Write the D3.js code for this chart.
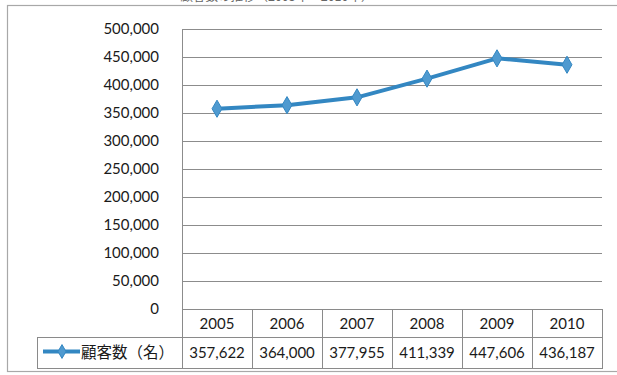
<!DOCTYPE html>
<html>
<head>
<meta charset="utf-8">
<script src="https://cdn.jsdelivr.net/npm/d3@7"></script>
<style>
  html, body { margin: 0; padding: 0; background: #fff; }
  svg { display: block; }
</style>
</head>
<body>
<svg id="chart" width="617" height="375"></svg>
<script>
// Customer count by year
const years = ["2005", "2006", "2007", "2008", "2009", "2010"];
const customers = [357622, 364000, 377955, 411339, 447606, 436187];
const yTicks = [0, 50000, 100000, 150000, 200000, 250000, 300000, 350000, 400000, 450000, 500000];
const seriesName = "顧客数（名）";
const chartTitle = "顧客数の推移（2005年～2010年）";

const svg = d3.select("#chart");
const numFont = "Lato, 'Open Sans', sans-serif";
const jpFont = "'Noto Sans CJK JP', sans-serif";
const lineColor = "#3387c2";
const markerFill = "#4f9ad0";

const plot = { left: 182, right: 602, top: 29, bottom: 309 };
const table = { legendLeft: 37, headerBottom: 337, bottom: 368 };

const x = d3.scaleBand().domain(years).range([plot.left, plot.right]);
const y = d3.scaleLinear().domain([0, 500000]).range([plot.bottom, plot.top]);
const fmt = d3.format(",");

// outer frame
svg.append("rect")
  .attr("x", 7.5).attr("y", 5.5)
  .attr("width", 640).attr("height", 366)
  .attr("fill", "none").attr("stroke", "#a8a8a8").attr("stroke-width", 1.2);

// title (runs off the top edge)
svg.append("text")
  .attr("x", 277).attr("y", 1)
  .attr("text-anchor", "middle")
  .attr("font-family", jpFont).attr("font-size", 12.5)
  .attr("fill", "#666")
  .text(chartTitle);

// horizontal gridlines
const grid = svg.append("g")
  .attr("transform", `translate(${plot.left},0)`)
  .call(d3.axisLeft(y).tickValues(yTicks).tickSize(-(plot.right - plot.left)).tickFormat(""));
grid.select(".domain").remove();
grid.selectAll(".tick line").attr("stroke", "#8c8c8c").attr("stroke-width", 1);

// plot area left edge
svg.append("line")
  .attr("x1", plot.left + 0.5).attr("x2", plot.left + 0.5)
  .attr("y1", plot.top).attr("y2", plot.bottom)
  .attr("stroke", "#8c8c8c");

// y axis labels
const yAxis = svg.append("g")
  .attr("transform", `translate(${plot.left - 23},0)`)
  .call(d3.axisLeft(y).tickValues(yTicks).tickSize(0).tickPadding(0).tickFormat(fmt));
yAxis.select(".domain").remove();
yAxis.selectAll("text")
  .attr("font-family", numFont).attr("font-size", 15).attr("fill", "#1a1a1a");

// data table
const tbl = svg.append("g");
function hline(x1, x2, yy) {
  tbl.append("line").attr("x1", x1).attr("x2", x2).attr("y1", yy + 0.5).attr("y2", yy + 0.5)
    .attr("stroke", "#8a8a8a").attr("stroke-width", 1);
}
function vline(xx, y1, y2) {
  tbl.append("line").attr("x1", xx + 0.5).attr("x2", xx + 0.5).attr("y1", y1).attr("y2", y2)
    .attr("stroke", "#8a8a8a").attr("stroke-width", 1);
}
hline(plot.left, plot.right, plot.bottom);
hline(table.legendLeft, plot.right, table.headerBottom);
hline(table.legendLeft, plot.right, table.bottom);
vline(table.legendLeft, table.headerBottom, table.bottom + 1);
years.forEach(d => vline(x(d), plot.bottom, table.bottom + 1));
vline(plot.right, plot.bottom, table.bottom + 1);

tbl.selectAll("text.year").data(years).join("text")
  .attr("class", "year")
  .attr("x", d => x(d) + x.bandwidth() / 2)
  .attr("y", (plot.bottom + table.headerBottom) / 2 + 5.5)
  .attr("text-anchor", "middle")
  .attr("font-family", numFont).attr("font-size", 15).attr("fill", "#1a1a1a")
  .text(d => d);

tbl.selectAll("text.val").data(customers).join("text")
  .attr("class", "val")
  .attr("x", (d, i) => x(years[i]) + x.bandwidth() / 2)
  .attr("y", (table.headerBottom + table.bottom) / 2 + 5.5)
  .attr("text-anchor", "middle")
  .attr("font-family", numFont).attr("font-size", 15).attr("fill", "#1a1a1a")
  .text(d => fmt(d));

// legend key inside the table
const keyY = (table.headerBottom + table.bottom) / 2 - 1;
tbl.append("line")
  .attr("x1", 43).attr("x2", 80).attr("y1", keyY).attr("y2", keyY)
  .attr("stroke", lineColor).attr("stroke-width", 4);
tbl.append("path")
  .attr("d", d3.symbol(d3.symbolDiamond, 55)())
  .attr("transform", `translate(62,${keyY})`)
  .attr("fill", markerFill).attr("stroke", lineColor).attr("stroke-width", 1);
tbl.append("text")
  .attr("x", 81).attr("y", keyY + 6)
  .attr("font-family", jpFont).attr("font-size", 15.5).attr("fill", "#1a1a1a")
  .text(seriesName);

// series line and markers
const pts = customers.map((v, i) => [x(years[i]) + x.bandwidth() / 2, y(v)]);
svg.append("path")
  .attr("d", d3.line()(pts))
  .attr("fill", "none").attr("stroke", lineColor)
  .attr("stroke-width", 4).attr("stroke-linejoin", "round");
svg.selectAll("path.marker").data(pts).join("path")
  .attr("class", "marker")
  .attr("d", d3.symbol(d3.symbolDiamond, 85)())
  .attr("transform", d => `translate(${d[0]},${d[1]})`)
  .attr("fill", markerFill).attr("stroke", lineColor).attr("stroke-width", 1);
</script>
</body>
</html>
